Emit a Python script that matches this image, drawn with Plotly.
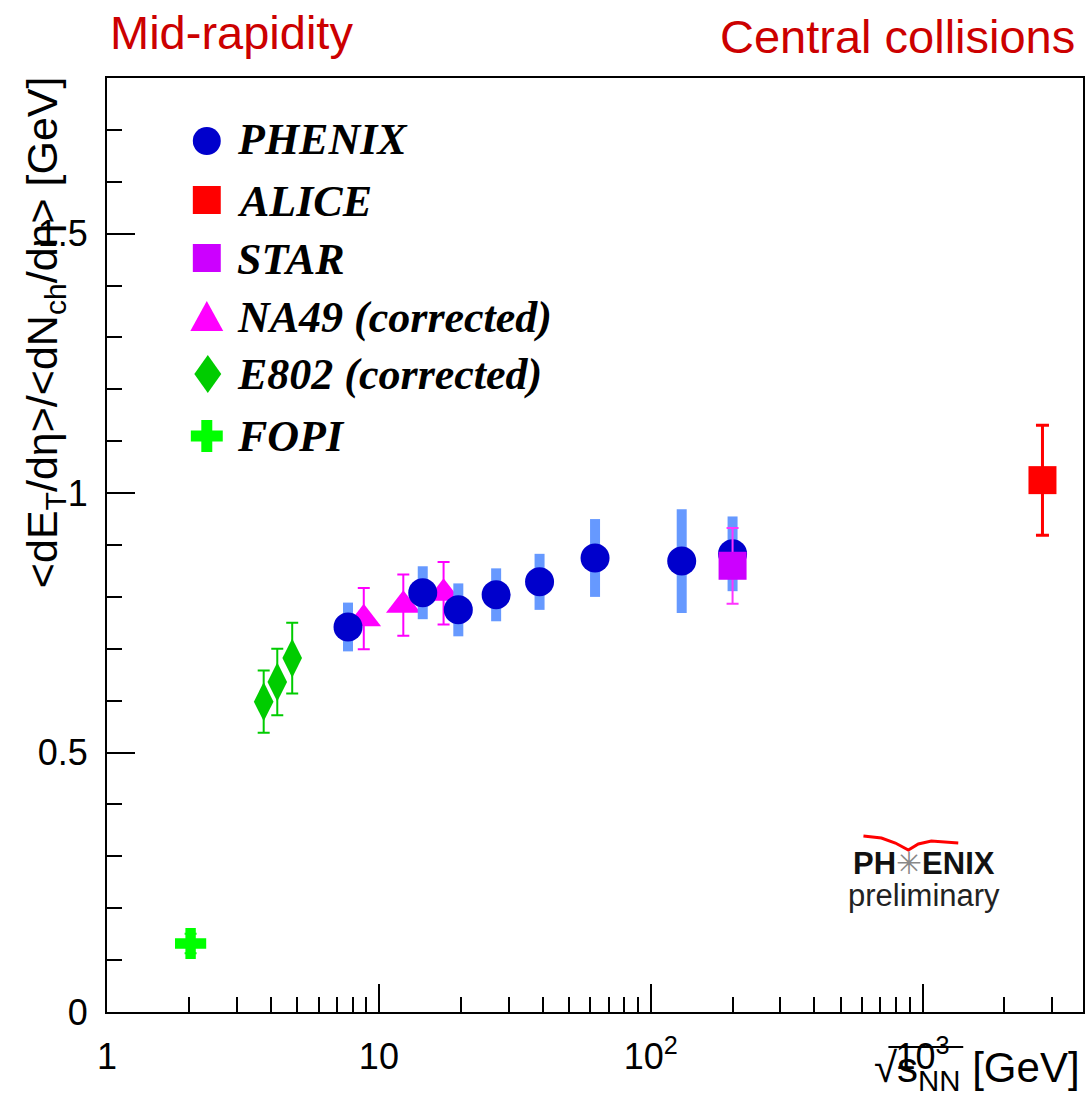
import plotly.graph_objects as go

# ---------------- data ----------------
phenix_x = [7.7, 14.5, 19.6, 27, 39, 62.4, 130, 200]
phenix_y = [0.742, 0.808, 0.775, 0.804, 0.829, 0.875, 0.869, 0.883]
phenix_err = [0.047, 0.051, 0.051, 0.051, 0.054, 0.075, 0.10, 0.072]

alice_x = [2760]
alice_y = [1.025]
alice_err = [0.106]

star_x = [200]
star_y = [0.86]
star_err = [0.073]

na49_x = [8.8, 12.3, 17.3]
na49_y = [0.758, 0.784, 0.807]
na49_err = [0.059, 0.059, 0.06]

e802_x = [3.77, 4.23, 4.8]
e802_y = [0.598, 0.636, 0.682]
e802_err = [0.06, 0.064, 0.068]

fopi_x = [2.03]
fopi_y = [0.132]
fopi_err = [0.019]

x_tickvals = [1, 10, 100, 1000]
x_ticktext = ["1", "10", "10<sup>2</sup>", "10<sup>3</sup>"]
x_minor = [2, 3, 4, 5, 6, 7, 8, 9, 20, 30, 40, 50, 60, 70, 80, 90,
           200, 300, 400, 500, 600, 700, 800, 900, 2000, 3000]
y_tickvals = [0, 0.5, 1, 1.5]
y_ticktext = ["0", "0.5", "1", "1.5"]

legend_names = ["PHENIX", "ALICE", "STAR", "NA49 (corrected)", "E802 (corrected)", "FOPI"]

# ---------------- colours ----------------
C_PHENIX = "#0000cc"
C_PHENIX_ERR = "#6699ff"
C_ALICE = "#ff0000"
C_STAR = "#cc00ff"
C_STAR_ERR = "#ff33ff"
C_NA49 = "#ff00ff"
C_E802 = "#00cc00"
C_FOPI = "#00ff00"
C_TITLE = "#cc0000"

# plot box in page pixels (for layout placement only)
L, R, T, B = 107, 1085, 78, 1012
def pxx(px):
    return (px - L) / (R - L)
def pxy(py):
    return (B - py) / (B - T)

fig = go.Figure()

def err(arr, color, thick=2, width=6):
    return dict(type="data", array=arr, visible=True, color=color,
                thickness=thick, width=width)

fig.add_trace(go.Scatter(x=e802_x, y=e802_y, mode="markers", name="E802",
                         error_y=err(e802_err, C_E802),
                         marker=dict(symbol="diamond-tall", size=28, color=C_E802, line=dict(width=0))))
fig.add_trace(go.Scatter(x=fopi_x, y=fopi_y, mode="markers", name="FOPI",
                         error_y=err(fopi_err, C_FOPI),
                         marker=dict(symbol="cross", size=26, color=C_FOPI, line=dict(width=0))))
fig.add_trace(go.Scatter(x=na49_x, y=na49_y, mode="markers", name="NA49",
                         error_y=err(na49_err, C_NA49),
                         marker=dict(symbol="triangle-up", size=30, color=C_NA49, line=dict(width=0))))
fig.add_trace(go.Scatter(x=phenix_x, y=phenix_y, mode="markers", name="PHENIX",
                         error_y=err(phenix_err, C_PHENIX_ERR, thick=10, width=0),
                         marker=dict(symbol="circle", size=29, color=C_PHENIX, line=dict(width=0))))
fig.add_trace(go.Scatter(x=star_x, y=star_y, mode="markers", name="STAR",
                         error_y=err(star_err, C_STAR_ERR),
                         marker=dict(symbol="square", size=28, color=C_STAR, line=dict(width=0))))
fig.add_trace(go.Scatter(x=alice_x, y=alice_y, mode="markers", name="ALICE",
                         error_y=err(alice_err, C_ALICE, thick=3, width=6.5),
                         marker=dict(symbol="square", size=28, color=C_ALICE, line=dict(width=0))))

# ---------------- legend (drawn manually, pixel overlay axes) ----------------
shapes = []
def px_shape(**kw):
    d = dict(xref="x2", yref="y2", line=dict(width=0), layer="above")
    d.update(kw)
    shapes.append(d)

lx = 207
ly = [141, 200, 258, 316, 374, 436]
px_shape(type="circle", x0=lx - 14, x1=lx + 14, y0=ly[0] - 14, y1=ly[0] + 14, fillcolor=C_PHENIX)
px_shape(type="rect", x0=lx - 14, x1=lx + 14, y0=ly[1] - 14, y1=ly[1] + 14, fillcolor=C_ALICE)
px_shape(type="rect", x0=lx - 14, x1=lx + 14, y0=ly[2] - 14, y1=ly[2] + 14, fillcolor=C_STAR)
px_shape(type="path", path=f"M{lx-16.5},{ly[3]+15} L{lx+16.5},{ly[3]+15} L{lx},{ly[3]-15} Z", fillcolor=C_NA49)
px_shape(type="path", path=f"M{lx+1},{ly[4]-19} L{lx+14.5},{ly[4]} L{lx+1},{ly[4]+19} L{lx-12.5},{ly[4]} Z", fillcolor=C_E802)
a, h = 16, 5.5
cy = ly[5]
px_shape(type="path", path=(f"M{lx-h},{cy-a} H{lx+h} V{cy-h} H{lx+a} V{cy+h} H{lx+h} V{cy+a} "
                            f"H{lx-h} V{cy+h} H{lx-a} V{cy-h} H{lx-h} Z"), fillcolor=C_FOPI)

annotations = []
text_y = [139, 201, 259, 317, 375, 436]
for name, ty in zip(legend_names, text_y):
    annotations.append(dict(xref="paper", yref="paper", x=pxx(235), y=pxy(ty), xanchor="left", yanchor="middle",
                            text=f"<b><i>{name}</i></b>", showarrow=False,
                            font=dict(family="Liberation Serif", size=44, color="black")))

# titles
annotations.append(dict(xref="paper", yref="paper", x=pxx(108), y=pxy(32), xanchor="left", yanchor="middle",
                        text="Mid-rapidity", showarrow=False,
                        font=dict(family="Liberation Sans", size=47, color=C_TITLE)))
annotations.append(dict(xref="paper", yref="paper", x=pxx(1079), y=pxy(36), xanchor="right", yanchor="middle",
                        text="Central collisions", showarrow=False,
                        font=dict(family="Liberation Sans", size=47, color=C_TITLE)))
# axis titles
annotations.append(dict(xref="paper", yref="paper", x=pxx(45), y=pxy(74), xanchor="center", yanchor="top",
                        textangle=-90, showarrow=False,
                        text="&lt;dE<sub>T</sub>/dη&gt;/&lt;dN<sub>ch</sub>/dη&gt; [GeV]",
                        font=dict(family="Liberation Sans", size=43, color="black")))
annotations.append(dict(xref="paper", yref="paper", x=pxx(1084), y=pxy(1070), xanchor="right", yanchor="middle",
                        showarrow=False,
                        text="√s<sub>NN</sub> [GeV]",
                        font=dict(family="Liberation Sans", size=42, color="black")))
shapes.append(dict(type="line", xref="paper", yref="paper", x0=pxx(890), x1=pxx(965),
                   y0=pxy(1047), y1=pxy(1047), line=dict(color="black", width=2)))

# PHENIX preliminary logo
annotations.append(dict(xref="paper", yref="paper", x=pxx(926), y=pxy(863), xanchor="center", yanchor="middle",
                        showarrow=False,
                        text="<b>PH</b><span style='color:#888888'>✳</span><b>ENIX</b>",
                        font=dict(family="Liberation Sans", size=31, color="#111111")))
annotations.append(dict(xref="paper", yref="paper", x=pxx(926), y=pxy(895), xanchor="center", yanchor="middle",
                        showarrow=False, text="preliminary",
                        font=dict(family="Liberation Sans", size=31, color="#222222")))
shapes.append(dict(type="path", xref="x2", yref="y2",
                   path="M865,836 L883,838 L897,843 L910,850 L920,844 L933,841 L960,843",
                   line=dict(color="#ff0000", width=3)))

fig.update_layout(
    width=1089, height=1100,
    margin=dict(l=L, r=1089 - R, t=T, b=1100 - B),
    paper_bgcolor="white", plot_bgcolor="white",
    showlegend=False,
    font=dict(family="Liberation Sans", size=36, color="black"),
    xaxis=dict(type="log", range=[0, 3.59], tickvals=x_tickvals, ticktext=x_ticktext,
               ticks="inside", ticklen=28, tickwidth=2, tickcolor="black",
               minor=dict(tickvals=x_minor, ticks="inside", ticklen=15, tickwidth=2, tickcolor="black"),
               showgrid=False, zeroline=False, showline=True, linecolor="black", linewidth=2,
               mirror=True, ticklabelstandoff=12,
               tickfont=dict(family="Liberation Sans", size=36)),
    yaxis=dict(range=[0, 1.8], tickvals=y_tickvals, ticktext=y_ticktext,
               ticks="inside", ticklen=28, tickwidth=2, tickcolor="black",
               minor=dict(dtick=0.1, ticks="inside", ticklen=15, tickwidth=2, tickcolor="black"),
               showgrid=False, zeroline=False, showline=True, linecolor="black", linewidth=2,
               mirror=True, ticklabelstandoff=10,
               tickfont=dict(family="Liberation Sans", size=36)),
    xaxis2=dict(overlaying="x", anchor="y2", range=[L, R], visible=False, fixedrange=True),
    yaxis2=dict(overlaying="y", anchor="x2", range=[B, T], visible=False, fixedrange=True),
    shapes=shapes,
    annotations=annotations,
)

fig.write_html("out.html")
